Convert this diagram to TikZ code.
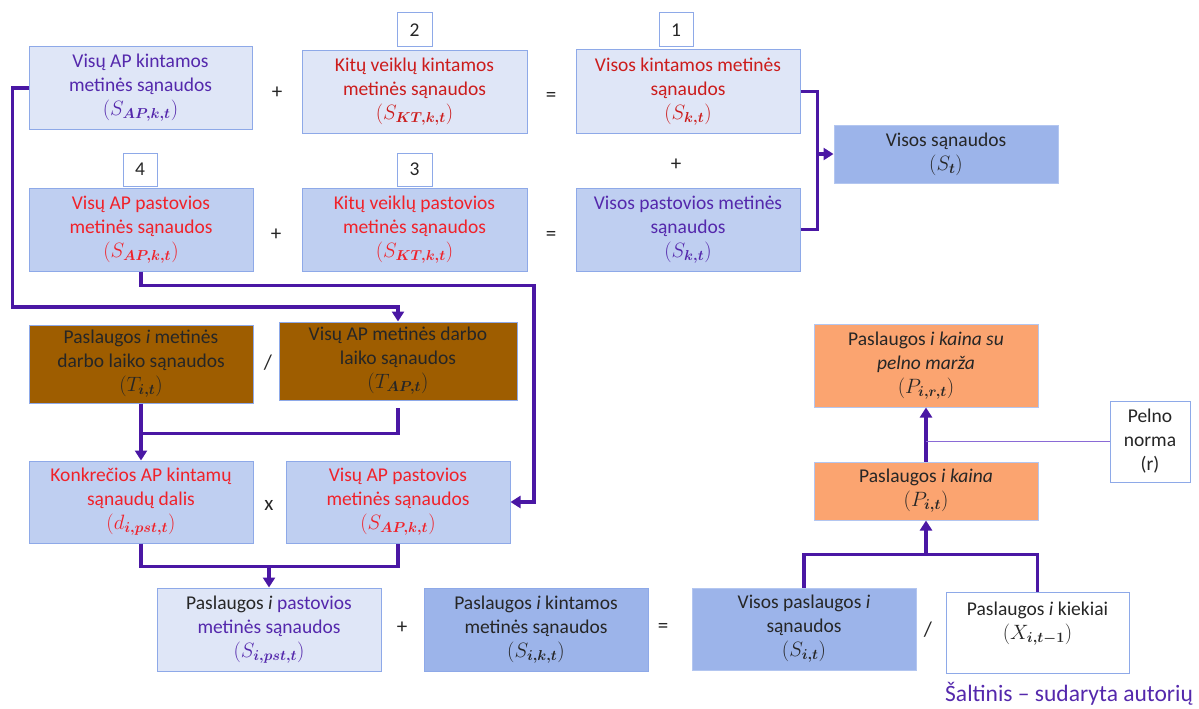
\documentclass[tikz,border=0pt]{standalone}
\usepackage{amsmath}
\usepackage{fontspec}
\setmainfont{Carlito}
\usetikzlibrary{arrows.meta}

\definecolor{lightfill}{HTML}{DFE6F7}
\definecolor{midfill}{HTML}{BFCFF1}
\definecolor{darkfill}{HTML}{9CB4EA}
\definecolor{brownfill}{HTML}{9E5D00}
\definecolor{orangefill}{HTML}{FBA470}
\definecolor{edgeblue}{HTML}{8EA9E8}
\definecolor{softedge}{HTML}{B3C6F0}
\definecolor{redA}{HTML}{CC1C1C}
\definecolor{redB}{HTML}{F0222A}
\definecolor{purpletext}{HTML}{5428AC}
\definecolor{linkcol}{HTML}{4A17A4}
\definecolor{thinlink}{HTML}{8A6AD6}
\definecolor{darktext}{HTML}{262626}

% symbol with a bold italic index, in parentheses
\newcommand{\sym}[2]{$(#1_{\boldsymbol{#2}})$}

\tikzset{
  box/.style={draw=edgeblue, line width=1pt, align=center, inner sep=0pt,
    minimum width=224pt, minimum height=83pt, text=darktext,
    font=\fontsize{19.5}{24}\selectfont},
  numbox/.style={draw=edgeblue, line width=1pt, fill=white, inner sep=0pt,
    minimum width=34pt, minimum height=34pt, text=darktext,
    font=\fontsize{19.5}{24}\selectfont},
  opsign/.style={inner sep=0pt, text=darktext, font=\fontsize{21}{24}\selectfont},
  conn/.style={draw=linkcol, line width=3.6pt},
  arr/.style={-{Triangle[width=12pt,length=10pt]}},
  thinconn/.style={draw=thinlink, line width=1.2pt},
}

\begin{document}
\begin{tikzpicture}[x=1pt,y=-1pt]
\useasboundingbox (0,0) rectangle (1199,709);

% first row: variable costs
\node[box, fill=lightfill, minimum width=223pt, minimum height=82pt, text=purpletext] (A1) at (140.5,88)
  {Visų AP kintamos\\metinės sąnaudos\\\sym{S}{AP,k,t}};
\node[box, fill=lightfill, minimum width=225pt, minimum height=82pt, text=redA] (B1) at (414.5,92)
  {Kitų veiklų kintamos\\metinės sąnaudos\\\sym{S}{KT,k,t}};
\node[box, fill=lightfill, text=redA] (C1) at (688,91.5)
  {Visos kintamos metinės\\sąnaudos\\\sym{S}{k,t}};
\node[numbox, minimum width=35pt] (n2) at (414.5,30) {2};
\node[numbox] (n1) at (676,30) {1};
\node[opsign] (p1) at (277,93) {+};
\node[opsign] (e1) at (551,97) {=};

% second row: fixed costs
\node[box, fill=midfill, text=redB] (A2) at (141,229.5)
  {Visų AP pastovios\\metinės sąnaudos\\\sym{S}{AP,k,t}};
\node[box, fill=midfill, minimum width=225pt, text=redB] (B2) at (414.5,229.5)
  {Kitų veiklų pastovios\\metinės sąnaudos\\\sym{S}{KT,k,t}};
\node[box, fill=midfill, text=purpletext] (C2) at (688,229.5)
  {Visos pastovios metinės\\sąnaudos\\\sym{S}{k,t}};
\node[numbox, minimum height=33pt] (n4) at (140,169.5) {4};
\node[numbox, minimum width=35pt, minimum height=33pt] (n3) at (414.5,169.5) {3};
\node[opsign] (p2) at (276,235) {+};
\node[opsign] (e2) at (551,236) {=};
\node[opsign] (p3) at (676,165) {+};

% total costs
\node[box, fill=darkfill, draw=softedge, minimum height=58pt] (D) at (946,154)
  {Visos sąnaudos\\\sym{S}{t}};

% working time shares
\node[box, fill=brownfill, minimum height=78pt] (T) at (141,364)
  {Paslaugos \textit{i} metinės\\darbo laiko sąnaudos\\\sym{T}{i,t}};
\node[box, fill=brownfill, minimum width=238pt, minimum height=78pt] (TAP) at (398,361)
  {Visų AP metinės darbo\\laiko sąnaudos\\\sym{T}{AP,t}};
\node[opsign] (d1) at (268,363) {/};

\node[box, fill=midfill, minimum height=82pt, text=redB] (K) at (141,502)
  {Konkrečios AP kintamų\\sąnaudų dalis\\\sym{d}{i,pst,t}};
\node[box, fill=midfill, minimum height=82pt, text=redB] (V) at (398,502)
  {Visų AP pastovios\\metinės sąnaudos\\\sym{S}{AP,k,t}};
\node[opsign] (m1) at (269,505) {x};

% bottom row: service costs
\node[box, fill=lightfill] (PP) at (269,629.5)
  {Paslaugos \textit{i} \textcolor{purpletext}{pastovios}\\\textcolor{purpletext}{metinės sąnaudos}\\\textcolor{purpletext}{\sym{S}{i,pst,t}}};
\node[box, fill=darkfill, draw=edgeblue] (PK) at (536,629.5)
  {Paslaugos \textit{i} kintamos\\metinės sąnaudos\\\sym{S}{i,k,t}};
\node[box, fill=darkfill, draw=softedge, minimum height=82pt] (VP) at (804,629)
  {Visos paslaugos \textit{i}\\sąnaudos\\\sym{S}{i,t}};
\node[box, fill=white, minimum width=183pt, minimum height=81pt] (X) at (1037.5,632.5)
  {Paslaugos \textit{i} kiekiai\\\sym{X}{i,t-1}\\\mbox{}};
\node[opsign] (p4) at (402,628) {+};
\node[opsign] (e3) at (663,628) {=};
\node[opsign] (d2) at (928,630) {/};

% prices
\node[box, fill=orangefill, draw=softedge, minimum height=58pt] (Pi) at (926,491)
  {Paslaugos \textit{i kaina}\\\sym{P}{i,t}};
\node[box, fill=orangefill, draw=softedge] (Pir) at (926,365.5)
  {Paslaugos \textit{i kaina su}\\\textit{pelno marža}\\\sym{P}{i,r,t}};
\node[box, fill=white, minimum width=80pt, minimum height=81pt] (R) at (1150,441.5)
  {Pelno\\norma\\(r)};

% connectors
\draw[conn, arr] (A1.west) -- ++(-16,0) -- ++(0,219) -| (TAP.north);
\draw[conn, arr] (A2.south) -- ++(0,14) -- ++(393,0) |- (V.east);
\draw[conn] (C1.east) -- ++(17,0) coordinate (b1) |- (C2.east);
\draw[conn, arr] (D.west -| b1) -- (D.west);
\draw[conn] (T.south) -- ++(0,30) coordinate (t1) -| ([yshift=-7pt]TAP.south);
\draw[conn, arr] (t1) -- (K.north);
\draw[conn] (K.south) -- ++(0,23) coordinate (k1) -| (V.south);
\draw[conn, arr] (k1 -| PP.north) -- (PP.north);
\draw[conn] (VP.north) -- ++(0,-33) coordinate (v1) -| (X.north);
\draw[conn, arr] (v1 -| Pi.south) -- (Pi.south);
\draw[conn, arr] (Pi.north) -- (Pir.south);
\draw[thinconn] (R.west) -- (R.west -| Pi.north);

% source note
\node[anchor=base west, inner sep=0pt, text=purpletext, font=\fontsize{23.5}{28}\selectfont] (src) at (945,701)
  {Šaltinis – sudaryta autorių};
\end{tikzpicture}
\end{document}
